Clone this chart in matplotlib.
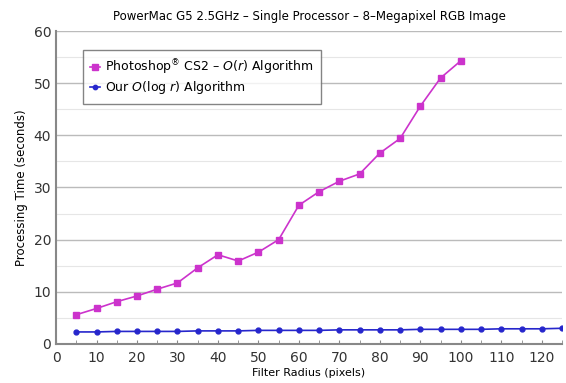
import matplotlib.pyplot as plt
from matplotlib.ticker import MultipleLocator

# Du lieu doc tu hinh
radius_ps = [5, 10, 15, 20, 25, 30, 35, 40, 45, 50, 55, 60, 65, 70, 75, 80, 85, 90, 95, 100]
time_ps = [5.6, 6.8, 8.1, 9.2, 10.5, 11.7, 14.6, 17.1, 15.9, 17.6, 20.0, 26.6, 29.2,
           31.2, 32.6, 36.6, 39.4, 45.6, 51.0, 54.3]

radius_ours = list(range(5, 130, 5))
time_ours = [2.3, 2.3, 2.4, 2.4, 2.4, 2.4, 2.5, 2.5, 2.5, 2.6, 2.6, 2.6, 2.6,
             2.7, 2.7, 2.7, 2.7, 2.8, 2.8, 2.8, 2.8, 2.9, 2.9, 2.9, 3.0]

fig = plt.figure(figsize=(5.66, 3.83), dpi=100)
ax = fig.add_axes([0.099, 0.102, 0.894, 0.817])

ax.plot(radius_ps, time_ps, color='#CC33CC', marker='s', markersize=5, linewidth=1.2,
        label='Photoshop$^{\\mathrm{®}}$ CS2 – $\\mathit{O}$($\\mathit{r}$) Algorithm', zorder=3)
ax.plot(radius_ours, time_ours, color='#2626CC', marker='o', markersize=3.5, linewidth=1.2,
        label=r'Our $\mathit{O}$(log $\mathit{r}$) Algorithm', zorder=3)

ax.set_xlim(0, 125)
ax.set_ylim(0, 60)
ax.xaxis.set_major_locator(MultipleLocator(10))
ax.xaxis.set_minor_locator(MultipleLocator(5))
ax.yaxis.set_major_locator(MultipleLocator(10))
ax.yaxis.set_minor_locator(MultipleLocator(5))

ax.grid(axis='y', which='major', color='#BBBBBB', linewidth=1.0)
ax.grid(axis='y', which='minor', color='#E6E6E6', linewidth=0.8)
ax.set_axisbelow(True)

for s in ['top', 'right']:
    ax.spines[s].set_visible(False)
for s in ['left', 'bottom']:
    ax.spines[s].set_color('#888888')
    ax.spines[s].set_linewidth(1.5)

ax.tick_params(axis='both', which='both', length=0, labelsize=10, colors='#333333')
ax.tick_params(axis='x', which='both', length=3, direction='in', color='#888888')
ax.tick_params(axis='x', pad=5)

ax.set_title('PowerMac G5 2.5GHz – Single Processor – 8–Megapixel RGB Image', fontsize=8.5, pad=8)
ax.set_xlabel('Filter Radius (pixels)', fontsize=8, labelpad=2)
ax.set_ylabel('Processing Time (seconds)', fontsize=8.5)

leg = ax.legend(loc='upper left', bbox_to_anchor=(0.04, 0.96), fontsize=9, frameon=True,
                fancybox=False, edgecolor='#666666', handlelength=0.8, handletextpad=0.4,
                borderpad=0.6, labelspacing=0.2, markerscale=0.9)
leg.get_frame().set_linewidth(1.0)

fig.savefig('out.png', dpi=100)
